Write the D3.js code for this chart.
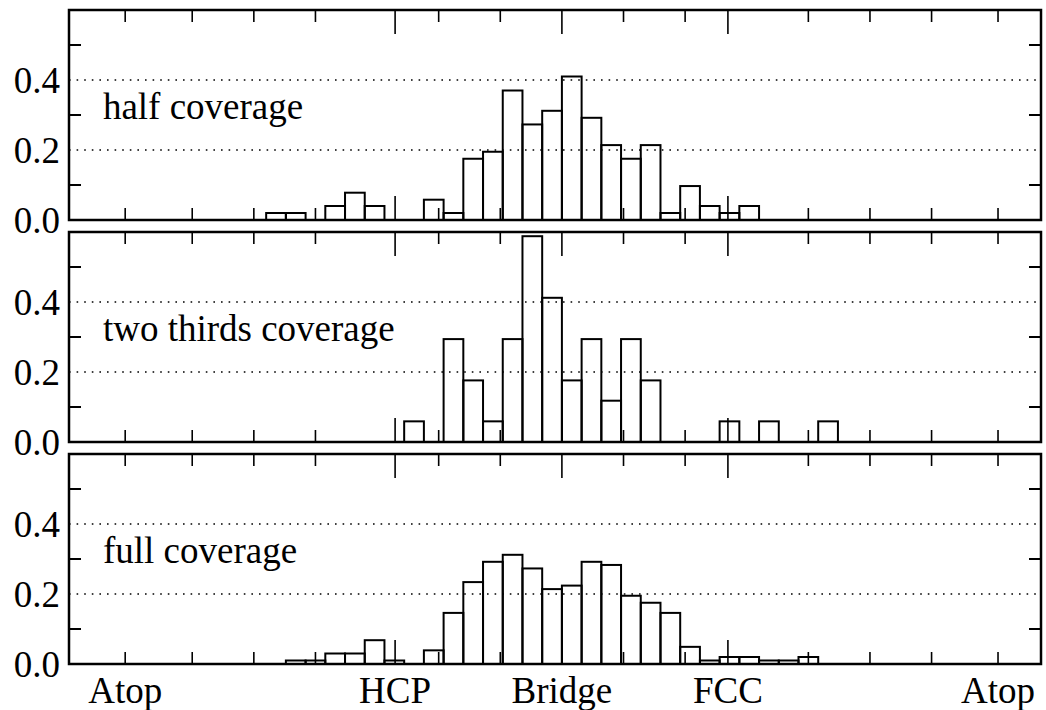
<!DOCTYPE html>
<html>
<head>
<meta charset="utf-8">
<script src="https://cdn.jsdelivr.net/npm/d3@7"></script>
<style>
  body { margin: 0; background: #fff; }
  text { font-family: "Liberation Serif", "Times New Roman", serif; font-size: 37px; fill: #000; }
</style>
</head>
<body>
<div id="chart"></div>
<script>
// bins are one unit wide, bin k spans [k, k+1], Bridge sits at 0
var panelNames = ["half coverage", "two thirds coverage", "full coverage"];

var halfBins = [-15, -14, -12, -11, -10, -7, -6, -5, -4, -3, -2, -1, 0, 1, 2, 3, 4, 5, 6, 7, 8, 9];
var halfValues = [0.02, 0.02, 0.04, 0.078, 0.04, 0.058, 0.02, 0.175, 0.195, 0.37, 0.273, 0.312, 0.41, 0.292, 0.214, 0.175, 0.214, 0.02, 0.097, 0.04, 0.02, 0.04];

var twoThirdsBins = [-8, -6, -5, -4, -3, -2, -1, 0, 1, 2, 3, 4, 8, 10, 13];
var twoThirdsValues = [0.059, 0.294, 0.176, 0.059, 0.294, 0.588, 0.412, 0.176, 0.294, 0.118, 0.294, 0.176, 0.059, 0.059, 0.059];

var fullBins = [-14, -13, -12, -11, -10, -9, -7, -6, -5, -4, -3, -2, -1, 0, 1, 2, 3, 4, 5, 6, 7, 8, 9, 10, 11, 12];
var fullValues = [0.01, 0.01, 0.03, 0.03, 0.068, 0.01, 0.039, 0.146, 0.234, 0.292, 0.312, 0.273, 0.214, 0.224, 0.292, 0.283, 0.195, 0.175, 0.146, 0.049, 0.01, 0.02, 0.02, 0.01, 0.01, 0.02];

var siteLabels = ["Atop", "HCP", "Bridge", "FCC", "Atop"];
var sitePositions = [-22.15, -8.46, 0, 8.42, 22.12];
var minorTicks = [-18.75, -15.625, -12.5, -6.25, -3.125, 3.125, 6.25, 12.5, 15.625, 18.75];
var yLabels = [0, 0.2, 0.4];
var yMinor = [0.1, 0.3, 0.5];

var panels = [
    { name: panelNames[0], bins: halfBins, values: halfValues },
    { name: panelNames[1], bins: twoThirdsBins, values: twoThirdsValues },
    { name: panelNames[2], bins: fullBins, values: fullValues }
];

var width = 1046,
    height = 710,
    left = 69,
    right = 1041,
    panelTop = 10,
    panelHeight = 210,
    panelStep = 222;

var svg = d3.select('#chart')
    .append('svg')
    .attr('width', width)
    .attr('height', height);

var x = d3.scaleLinear()
    .domain([-25, 24.3])
    .range([left, right]);

var y = d3.scaleLinear()
    .domain([0, 0.6])
    .range([panelHeight, 0]);

panels.forEach(function (p, i) {
    var g = svg.append('g')
        .attr('transform', 'translate(0,' + (panelTop + i * panelStep) + ')');

    // dotted grid at the labelled y values
    g.selectAll('.grid')
        .data(yLabels.slice(1))
        .enter().append('line')
        .attr('x1', left).attr('x2', right)
        .attr('y1', y).attr('y2', y)
        .attr('stroke', '#000')
        .attr('stroke-width', 1.6)
        .attr('stroke-dasharray', '1.6,6');

    g.selectAll('.bar')
        .data(p.bins)
        .enter().append('rect')
        .attr('x', function (d) { return x(d); })
        .attr('width', function (d) { return x(d + 1) - x(d); })
        .attr('y', function (d, j) { return y(p.values[j]); })
        .attr('height', function (d, j) { return y(0) - y(p.values[j]); })
        .attr('fill', 'none')
        .attr('stroke', '#000')
        .attr('stroke-width', 2);

    // x ticks, top and bottom
    var ticks = minorTicks.map(function (v) { return { v: v, len: 12 }; })
        .concat(sitePositions.map(function (v, j) {
            return { v: v, len: (j === 0 || j === 4) ? 12 : 24 };
        }));
    g.selectAll('.xt-top')
        .data(ticks)
        .enter().append('line')
        .attr('x1', function (d) { return x(d.v); })
        .attr('x2', function (d) { return x(d.v); })
        .attr('y1', 0)
        .attr('y2', function (d) { return d.len; })
        .attr('stroke', '#000')
        .attr('stroke-width', 1.6);
    g.selectAll('.xt-bot')
        .data(ticks)
        .enter().append('line')
        .attr('x1', function (d) { return x(d.v); })
        .attr('x2', function (d) { return x(d.v); })
        .attr('y1', panelHeight)
        .attr('y2', function (d) { return panelHeight - d.len; })
        .attr('stroke', '#000')
        .attr('stroke-width', 1.6);

    // y ticks, left and right
    g.selectAll('.yt')
        .data(yMinor.concat(yMinor))
        .enter().append('line')
        .attr('x1', function (d, j) { return j < 3 ? left : right; })
        .attr('x2', function (d, j) { return j < 3 ? left + 12 : right - 12; })
        .attr('y1', y).attr('y2', y)
        .attr('stroke', '#000')
        .attr('stroke-width', 2);

    g.selectAll('.ylab')
        .data(yLabels)
        .enter().append('text')
        .attr('x', left - 9)
        .attr('y', function (d) { return y(d) + 13; })
        .attr('text-anchor', 'end')
        .text(function (d) { return d.toFixed(1); });

    g.append('rect')
        .attr('x', left)
        .attr('y', 0)
        .attr('width', right - left)
        .attr('height', panelHeight)
        .attr('fill', 'none')
        .attr('stroke', '#000')
        .attr('stroke-width', 2.5);

    g.append('text')
        .attr('x', x(-23.28))
        .attr('y', y(0.29))
        .text(p.name);
});

svg.selectAll('.site')
    .data(siteLabels)
    .enter().append('text')
    .attr('x', function (d, i) { return x(sitePositions[i]); })
    .attr('y', 703)
    .attr('text-anchor', 'middle')
    .text(function (d) { return d; });
</script>
</body>
</html>
